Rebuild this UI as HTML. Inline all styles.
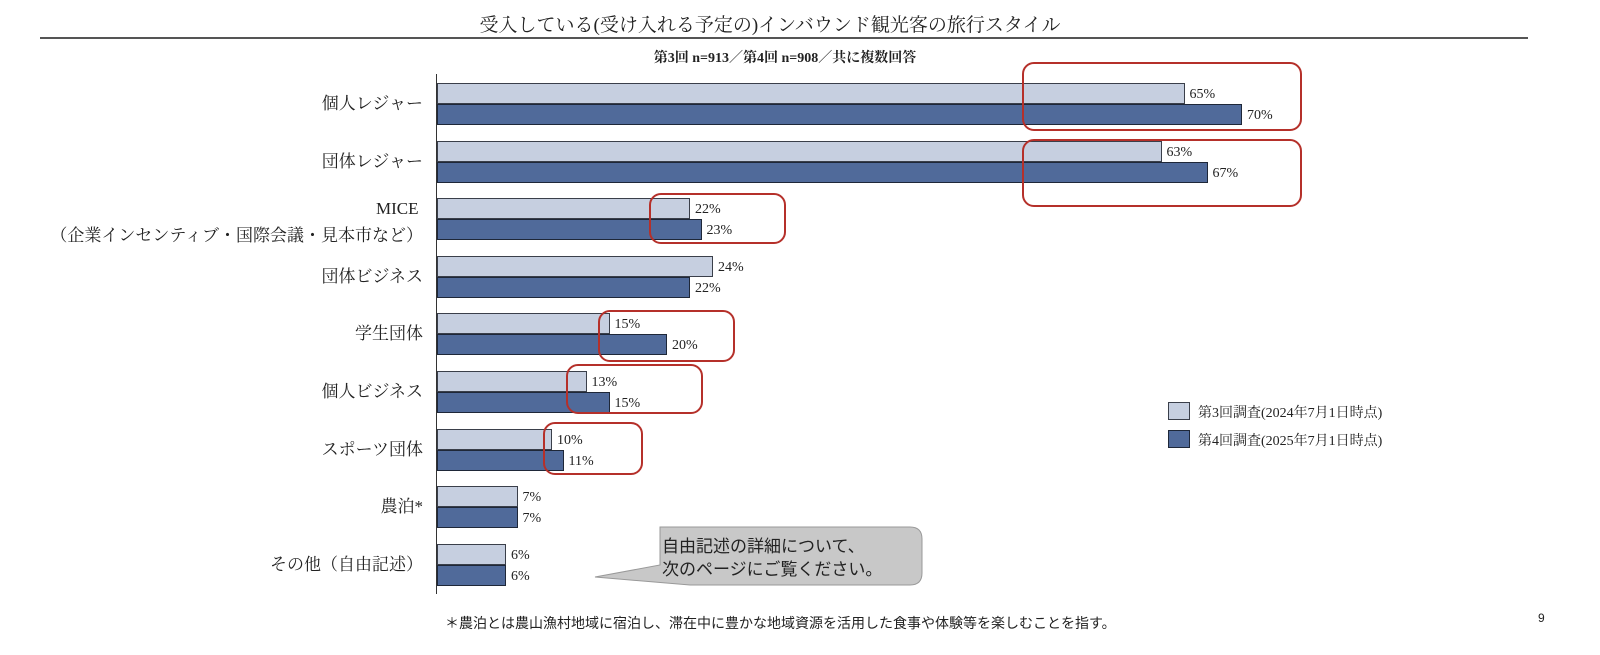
<!DOCTYPE html><html><head><meta charset="utf-8"><style>
body{margin:0;width:1600px;height:655px;background:#fff;position:relative;overflow:hidden;font-family:"Liberation Serif","Noto Serif CJK JP","Noto Serif CJK SC",serif;color:#222}
.a{position:absolute;white-space:nowrap}
.l{position:absolute;background:#c6cfe0;border:1px solid #3a3f4a;box-sizing:border-box;height:21px}
.d{position:absolute;background:#506a9a;border:1px solid #1e2738;box-sizing:border-box;height:21px}
.v{position:absolute;font-size:14px;line-height:16px}
.c{position:absolute;font-size:17px;text-align:right;right:1177px;line-height:20px;white-space:nowrap}
.r{position:absolute;border:2.5px solid #b5302a;border-radius:12px;box-sizing:border-box}
</style></head><body>
<div class="a" style="left:0;width:1540px;top:10px;text-align:center;font-size:19px">受入している(受け入れる予定の)インバウンド観光客の旅行スタイル</div>
<div class="a" style="left:40px;top:37px;width:1488px;height:2px;background:#555"></div>
<div class="a" style="left:0;width:1570px;top:47px;text-align:center;font-size:14px;font-weight:bold">第3回 n=913／第4回 n=908／共に複数回答</div>
<div class="a" style="left:436px;top:74px;width:1px;height:520px;background:#333"></div>
<div id="g"></div>
<div class="r" style="left:1022px;top:62px;width:280px;height:69px"></div>
<div class="r" style="left:1022px;top:139px;width:280px;height:68px"></div>
<div class="r" style="left:649px;top:193px;width:137px;height:51px"></div>
<div class="r" style="left:598px;top:310px;width:137px;height:52px"></div>
<div class="r" style="left:566px;top:364px;width:137px;height:50px"></div>
<div class="r" style="left:543px;top:422px;width:100px;height:53px"></div>
<div class="l" style="left:1168px;top:402px;width:22px;height:18px"></div>
<div class="d" style="left:1168px;top:430px;width:22px;height:18px"></div>
<div class="a" style="left:1198px;top:402px;font-size:14px">第3回調査(2024年7月1日時点)</div>
<div class="a" style="left:1198px;top:430px;font-size:14px">第4回調査(2025年7月1日時点)</div>
<svg class="a" style="left:590px;top:525px" width="340" height="65"><path d="M70 2 H320 Q332 2 332 14 V48 Q332 60 320 60 H100 L5 52 L70 40 Z" fill="#c8c8c8" stroke="#999"/></svg>
<div class="a" style="left:662px;top:535px;font-size:17px;line-height:23px;font-family:'Liberation Sans','Noto Sans CJK JP',sans-serif">自由記述の詳細について、<br>次のページにご覧ください。</div>
<div class="a" style="left:445px;top:613px;font-size:14px;font-family:'Liberation Sans','Noto Sans CJK JP',sans-serif">＊農泊とは農山漁村地域に宿泊し、滞在中に豊かな地域資源を活用した食事や体験等を楽しむことを指す。</div>
<div class="a" style="left:1538px;top:611px;font-size:12px;font-family:'Liberation Sans',sans-serif">9</div>
<div class="a" style="left:376px;top:199px;font-size:17px">MICE</div>
<div class="a" style="right:1177px;top:221px;font-size:17px">（企業インセンティブ・国際会議・見本市など）</div>
<script>
var D=[["個人レジャー",65,70],["団体レジャー",63,67],["",22,23],["団体ビジネス",24,22],["学生団体",15,20],["個人ビジネス",13,15],["スポーツ団体",10,11],["農泊*",7,7],["その他（自由記述）",6,6]];
var h="";D.forEach(function(r,i){var t=83+i*57.6,k=11.5;
h+='<div class="l" style="left:437px;top:'+t+'px;width:'+(r[1]*k)+'px"></div>';
h+='<div class="d" style="left:437px;top:'+(t+21)+'px;width:'+(r[2]*k)+'px"></div>';
h+='<div class="v" style="left:'+(442+r[1]*k)+'px;top:'+(t+4)+'px">'+r[1]+'%</div>';
h+='<div class="v" style="left:'+(442+r[2]*k)+'px;top:'+(t+25)+'px">'+r[2]+'%</div>';
if(r[0])h+='<div class="c" style="top:'+(t+11)+'px">'+r[0]+'</div>';});
document.getElementById("g").innerHTML=h;
</script>
</body></html>
